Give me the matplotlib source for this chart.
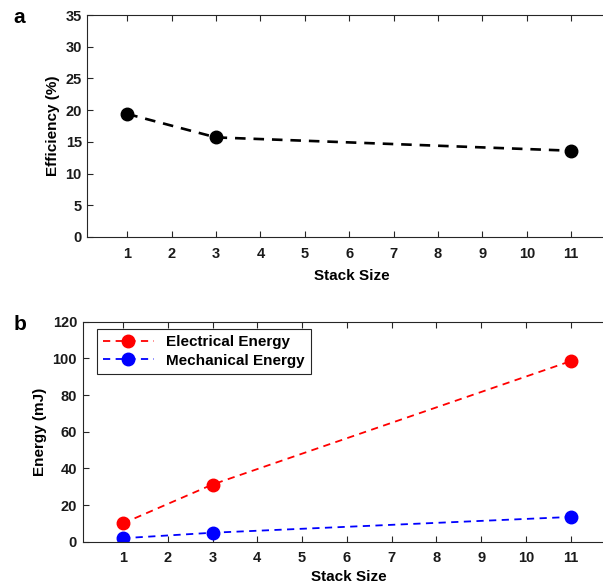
import matplotlib
matplotlib.use('Agg')
import matplotlib.pyplot as plt

# Stack sizes tested and measured results
stack_size = [1, 3, 11]
efficiency = [19.4, 15.7, 13.6]
electrical_energy = [10.0, 31.2, 98.5]
mechanical_energy = [1.9, 4.9, 13.5]

plt.rcParams['font.family'] = ['Liberation Sans', 'DejaVu Sans']
plt.rcParams['font.weight'] = 'bold'
plt.rcParams['font.size'] = 10.5
plt.rcParams['axes.labelweight'] = 'bold'

axis_grey = '0.15'

fig = plt.figure(figsize=(6.03, 5.86), dpi=100)

# axes run past the right edge of the figure
ax_a = fig.add_axes([0.1448, 0.5956, 0.876, 0.3788])
ax_b = fig.add_axes([0.1371, 0.0756, 0.8836, 0.3754])


def style_axes(ax, label_pad):
    for side in ax.spines:
        ax.spines[side].set_color(axis_grey)
        ax.spines[side].set_linewidth(0.8)
    ax.tick_params(direction='in', length=4, width=0.8, colors=axis_grey,
                   top=True, right=True, labelcolor='0.1')
    ax.tick_params(axis='x', pad=7)
    ax.tick_params(axis='y', pad=4)
    ax.set_xlim(0.1, 12)
    ax.set_xticks(range(1, 12))
    ax.set_xlabel('Stack Size', fontsize=11, labelpad=label_pad)


# Panel a: efficiency
ax_a.plot(stack_size, efficiency, color='black', linestyle=(0, (4, 3)),
          linewidth=1.9, marker='o', markersize=9)
style_axes(ax_a, 6)
ax_a.set_ylim(0, 35)
ax_a.set_yticks(range(0, 36, 5))
ax_a.set_ylabel('Efficiency (%)', fontsize=11, labelpad=4)
fig.text(0.022, 0.97, 'a', fontsize=15, fontweight='bold', ha='left', va='center')

# Panel b: energies
ax_b.plot(stack_size, electrical_energy, color='red', linestyle=(0, (4, 3)),
          linewidth=1.3, marker='o', markersize=9, label='Electrical Energy')
ax_b.plot(stack_size, mechanical_energy, color='blue', linestyle=(0, (4, 3)),
          linewidth=1.3, marker='o', markersize=9, label='Mechanical Energy')
style_axes(ax_b, 3.5)
ax_b.set_ylim(0, 120)
ax_b.set_yticks(range(0, 121, 20))
ax_b.set_ylabel('Energy (mJ)', fontsize=11, labelpad=4)
leg = ax_b.legend(loc='upper left', bbox_to_anchor=(0.027, 0.967), borderaxespad=0,
                  fancybox=False, edgecolor=axis_grey, framealpha=1,
                  handlelength=3.3, borderpad=0.4, labelspacing=0.3, fontsize=11)
leg.get_frame().set_linewidth(0.8)
fig.text(0.022, 0.447, 'b', fontsize=15, fontweight='bold', ha='left', va='center')

fig.savefig('out.png', dpi=100)
